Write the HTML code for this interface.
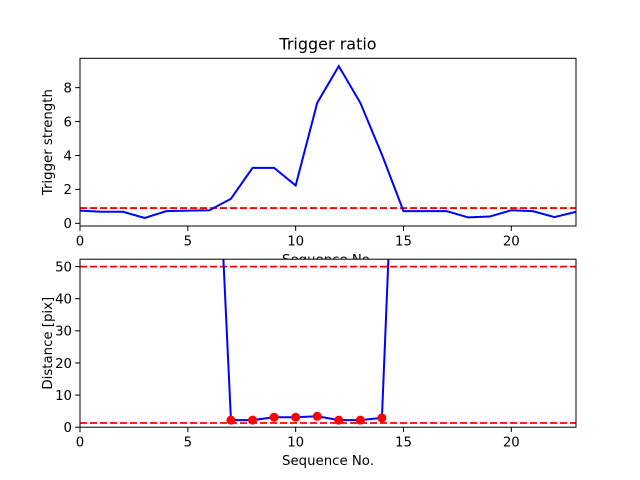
<!DOCTYPE html>
<html><head><meta charset="utf-8"><style>
html,body{margin:0;padding:0;background:#fff}
svg{display:block;font-family:"DejaVu Sans","Liberation Sans",sans-serif}
</style></head><body>
<svg id="fig" width="640" height="480" viewBox="0 0 640 480"></svg>
<script>
const seqTop = [0,1,2,3,4,5,6,7,8,9,10,11,12,13,14,15,16,17,18,19,20,21,22,23];
const trigger = [0.75,0.68,0.68,0.32,0.72,0.75,0.77,1.45,3.27,3.27,2.23,7.1,9.27,7.1,4.05,0.72,0.72,0.72,0.35,0.4,0.77,0.72,0.37,0.68];
const triggerThreshold = 0.9;
const topYTicks = [0,2,4,6,8];
const xTicks = [0,5,10,15,20];
const seqBot = [6,7,8,9,10,11,12,13,14,15];
const distance = [145,2.2,2.2,3.1,3.1,3.4,2.2,2.2,2.9,167];
const dotSeq = [7,8,9,10,11,12,13,14];
const dotDist = [2.2,2.2,3.1,3.1,3.4,2.2,2.2,2.9];
const distThresholds = [50,1.3];
const botYTicks = [0,10,20,30,40,50];

const NS='http://www.w3.org/2000/svg';
const svg=document.getElementById('fig');
function mk(tag,attrs,parent){const e=document.createElementNS(NS,tag);for(const k in attrs)e.setAttribute(k,attrs[k]);(parent||svg).appendChild(e);return e;}
const L=80,R=576;
const FS=13.3;
function panel(name,top,bottom,ymin,ymax,yticks,ylabel,drawFn,title){
  const g=mk('g',{});
  
  
  const sx=v=>L+(v-0)/(23-0)*(R-L);
  const sy=v=>bottom-(v-ymin)/(ymax-ymin)*(bottom-top);
  const bg=mk('rect',{x:L,y:top,width:R-L,height:bottom-top,fill:'#fff'},g);
  
  
  const clipId=name+'-clip';
  const cp=mk('clipPath',{id:clipId},g);mk('rect',{x:L,y:top,width:R-L,height:bottom-top},cp);
  const plot=mk('g',{'clip-path':'url(#'+clipId+')'},g);
  drawFn(plot,sx,sy);
  const fr=mk('rect',{x:L,y:top,width:R-L,height:bottom-top,fill:'none',stroke:'#000','stroke-width':1},g);
  
  
  xTicks.forEach(t=>{
    mk('line',{x1:sx(t),x2:sx(t),y1:bottom,y2:bottom+4.9,stroke:'#000','stroke-width':1},g);
    const tx=mk('text',{x:sx(t),y:bottom+19.5,'font-size':FS,'text-anchor':'middle'},g);tx.textContent=t;
    
    
  });
  yticks.forEach(t=>{
    mk('line',{x1:L-4.9,x2:L,y1:sy(t),y2:sy(t),stroke:'#000','stroke-width':1},g);
    const tx=mk('text',{x:L-8,y:sy(t)+4.8,'font-size':FS,'text-anchor':'end'},g);tx.textContent=t;
    
    
  });
  const yl=mk('text',{x:0,y:0,'font-size':FS,'text-anchor':'middle',transform:`translate(52,${(top+bottom)/2}) rotate(-90)`},g);
  yl.textContent=ylabel;
  
  
  const xl=mk('text',{x:(L+R)/2,y:bottom+38,'font-size':FS,'text-anchor':'middle'},g);
  xl.textContent='Sequence No.';
  
  
  if(title){const t=mk('text',{x:(L+R)/2,y:top-9,'font-size':16,'text-anchor':'middle'},g);t.textContent=title;
    
    }
}
panel('trigger-panel',58.3,226,-0.157,9.73,topYTicks,'Trigger strength',(p,sx,sy)=>{
  const th=mk('line',{x1:L,x2:R,y1:sy(triggerThreshold),y2:sy(triggerThreshold),stroke:'#f00','stroke-width':1.8,'stroke-dasharray':'7,3'},p);
  
  
  const ln=mk('polyline',{points:seqTop.map((x,i)=>sx(x)+','+sy(trigger[i])).join(' '),fill:'none',stroke:'#00f','stroke-width':2},p);
  
  
},'Trigger ratio');
panel('distance-panel',259.2,427.2,0,52.3,botYTicks,'Distance [pix]',(p,sx,sy)=>{
  distThresholds.forEach(v=>{
    const th=mk('line',{x1:L,x2:R,y1:sy(v),y2:sy(v),stroke:'#f00','stroke-width':1.8,'stroke-dasharray':'7,3'},p);
    
    
  });
  const ln=mk('polyline',{points:seqBot.map((x,i)=>sx(x)+','+sy(distance[i])).join(' '),fill:'none',stroke:'#00f','stroke-width':2},p);
  
  
  dotSeq.forEach((x,i)=>{
    const c=mk('circle',{cx:sx(x),cy:sy(dotDist[i]),r:4.5,fill:'#f00'},p);
    
    
  });
});
</script>
</body></html>
